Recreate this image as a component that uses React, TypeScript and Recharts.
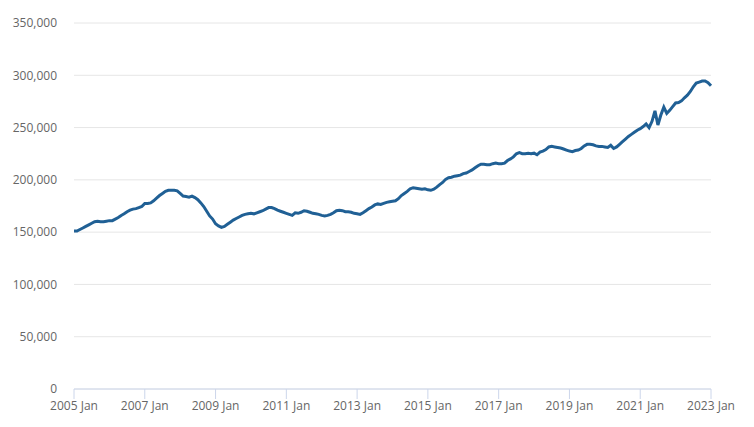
import React from "react";
import { LineChart, Line, XAxis, YAxis, CartesianGrid } from "recharts";

// Average house price, monthly, Jan 2005 to Jan 2023 (values in £)
const startYear = 2005;
const monthNames = ["Jan", "Feb", "Mar", "Apr", "May", "Jun", "Jul", "Aug", "Sep", "Oct", "Nov", "Dec"];

const prices2005 = [151000, 151000, 152500, 154000, 155500, 157000, 158500, 160000, 160500, 160000, 160000, 160500];
const prices2006 = [161000, 161000, 162500, 164000, 166000, 167500, 169500, 171000, 172000, 172500, 173500, 174500];
const prices2007 = [177500, 177500, 178000, 180000, 182500, 185000, 187000, 189000, 190000, 190000, 190000, 189500];
const prices2008 = [187000, 184500, 184000, 183500, 184500, 183000, 181000, 178000, 174500, 170000, 165500, 162500];
const prices2009 = [158000, 156000, 154500, 155500, 157500, 159500, 161500, 163000, 164500, 166000, 167000, 167500];
const prices2010 = [168000, 167500, 168500, 169500, 170500, 172000, 173500, 173500, 172500, 171000, 170000, 169000];
const prices2011 = [168000, 167000, 166000, 168500, 168000, 169000, 170500, 170000, 169000, 168000, 167500, 167000];
const prices2012 = [166000, 165500, 166000, 167000, 168500, 170500, 171000, 170500, 169500, 169500, 169000, 168000];
const prices2013 = [167500, 167000, 168500, 170500, 172500, 174000, 176000, 177000, 176500, 177500, 178500, 179000];
const prices2014 = [179500, 180000, 182000, 185000, 187000, 189000, 191500, 192500, 192000, 191500, 191000, 191500];
const prices2015 = [190500, 190000, 191000, 193000, 195500, 197500, 200500, 202000, 202500, 203500, 204000, 204500];
const prices2016 = [206000, 206500, 208000, 209500, 211500, 213500, 215000, 215000, 214500, 214500, 215500, 216000];
const prices2017 = [215500, 215500, 216000, 218500, 220000, 222000, 225000, 226000, 225000, 225000, 225500, 225000];
const prices2018 = [225500, 224000, 226500, 227500, 229000, 231500, 232000, 231500, 231000, 230500, 229500, 228500];
const prices2019 = [227500, 227000, 228000, 228500, 230000, 232500, 234000, 234000, 233500, 232500, 232000, 232000];
const prices2020 = [231500, 231000, 233000, 230000, 231500, 234000, 236500, 239000, 241500, 243500, 245500, 247500];
const prices2021 = [249000, 251000, 253500, 250000, 256000, 266000, 252500, 262000, 269500, 263500, 266500, 270000];
const prices2022 = [273500, 274000, 275500, 278500, 281000, 284500, 289000, 292500, 293500, 294500, 294500, 293000];
const prices2023 = [290000];

const allPrices = [
  ...prices2005, ...prices2006, ...prices2007, ...prices2008, ...prices2009, ...prices2010,
  ...prices2011, ...prices2012, ...prices2013, ...prices2014, ...prices2015, ...prices2016,
  ...prices2017, ...prices2018, ...prices2019, ...prices2020, ...prices2021, ...prices2022,
  ...prices2023,
];

const xTickIndex = [0, 24, 48, 72, 96, 120, 144, 168, 192, 216];
const xTickLabels = ["2005 Jan", "2007 Jan", "2009 Jan", "2011 Jan", "2013 Jan", "2015 Jan", "2017 Jan", "2019 Jan", "2021 Jan", "2023 Jan"];
const yTicks = [0, 50000, 100000, 150000, 200000, 250000, 300000, 350000];

const data = allPrices.map((price, i) => ({
  m: i,
  label: `${startYear + Math.floor(i / 12)} ${monthNames[i % 12]}`,
  price,
}));

const fmt = (v: number) => v.toLocaleString("en-GB");

export default function App() {
  const font = "'Open Sans', sans-serif";
  return (
    <div style={{ position: "absolute", left: 0, top: 0, background: "#fff" }}>
      <LineChart
        width={754}
        height={427}
        data={data}
        margin={{ top: 23, right: 43, bottom: 8, left: 0 }}
      >
        <CartesianGrid vertical={false} stroke="#e6e6e6" strokeWidth={1} />
        <XAxis
          dataKey="m"
          type="number"
          domain={[0, 216]}
          ticks={xTickIndex}
          tickFormatter={(v: number) => xTickLabels[xTickIndex.indexOf(v)] ?? ""}
          interval={0}
          height={30}
          stroke="#ccd6eb"
          tickSize={10}
          tickMargin={2}
          tick={{ fill: "#666666", fontSize: 12, fontFamily: font }}
          axisLine={{ stroke: "#ccd6eb" }}
          tickLine={{ stroke: "#ccd6eb" }}
        />
        <YAxis
          type="number"
          domain={[0, 350000]}
          ticks={yTicks}
          interval={0}
          width={74}
          axisLine={false}
          tickLine={false}
          tickSize={0}
          tickMargin={17}
          tickFormatter={fmt}
          tick={{ fill: "#666666", fontSize: 12, fontFamily: font }}
        />
        <Line
          type="linear"
          dataKey="price"
          stroke="#206095"
          strokeWidth={3}
          dot={false}
          activeDot={false}
          isAnimationActive={false}
        />
      </LineChart>
    </div>
  );
}
